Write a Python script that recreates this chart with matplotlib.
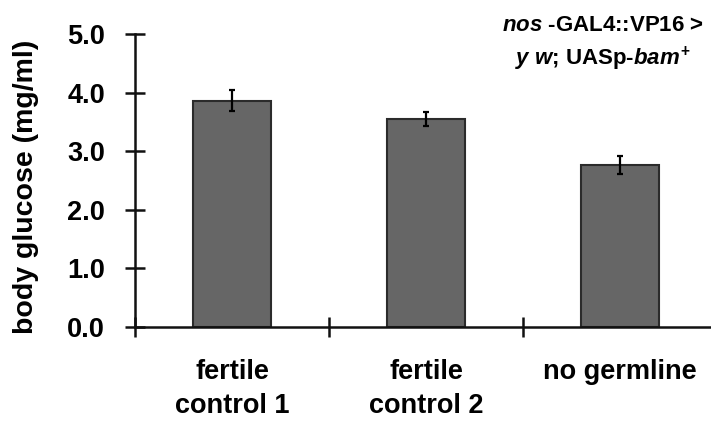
import matplotlib

matplotlib.use("Agg")
import matplotlib.pyplot as plt
import numpy as np

# values
groups = ["fertile\ncontrol 1", "fertile\ncontrol 2", "no germline"]
glucose = [3.86, 3.55, 2.76]
glucose_err = [0.18, 0.12, 0.15]
y_ticks = [0.0, 1.0, 2.0, 3.0, 4.0, 5.0]
genotype = "$\\mathit{nos}$ -GAL4::VP16 >\n$\\mathit{y}$ $\\mathit{w}$; UASp-$\\mathit{bam}^{+}$"

plt.rcParams["font.family"] = ["Liberation Sans", "DejaVu Sans"]
plt.rcParams["font.weight"] = "bold"
plt.rcParams["mathtext.fontset"] = "custom"
plt.rcParams["mathtext.rm"] = "Liberation Sans:bold"
plt.rcParams["mathtext.bf"] = "Liberation Sans:bold"
plt.rcParams["mathtext.it"] = "Liberation Sans:italic:bold"

W, H = 711, 423
fig = plt.figure(figsize=(W / 100, H / 100), dpi=100)
ax = fig.add_axes([135 / W, 96 / H, 576 / W, 293 / H])

x = np.arange(len(groups))
ax.bar(x, glucose, width=0.4, color="#666666", edgecolor="#2b2b2b", linewidth=1.5, zorder=2)
ax.errorbar(x, glucose, yerr=glucose_err, fmt="none", ecolor="black",
            elinewidth=1.6, capsize=2.5, capthick=1.6, zorder=3)

ax.set_xlim(-0.5, -0.5 + 576 / 194)
ax.set_ylim(0, 5)

for side in ["top", "right"]:
    ax.spines[side].set_visible(False)
for side in ["left", "bottom"]:
    ax.spines[side].set_linewidth(1.8)
    ax.spines[side].set_color("#111111")

ax.set_yticks(y_ticks)
ax.set_yticklabels([f"{v:.1f}" for v in y_ticks])
ax.tick_params(axis="y", direction="inout", length=15, width=1.8, pad=14,
               labelsize=19.5, color="#111111")

# category boundaries as ticks, labels on minor ticks at the bar centres
ax.set_xticks([-0.5, 0.5, 1.5])
ax.set_xticklabels([])
ax.set_xticks(x, minor=True)
ax.set_xticklabels(groups, minor=True, fontsize=19.5, linespacing=1.4)
ax.tick_params(axis="x", which="major", direction="inout", length=15, width=1.8, color="#111111")
ax.tick_params(axis="x", which="minor", length=0, pad=23)

fig.text(26 / W, 1 - 187 / H, "body glucose (mg/ml)", rotation=90,
         ha="center", va="center", fontsize=20.5, fontweight="bold")

fig.text(603 / W, 1 - 15 / H, genotype, ha="center", va="top",
         fontsize=16, fontweight="bold", linespacing=1.45)

fig.savefig("out.png", dpi=100)
